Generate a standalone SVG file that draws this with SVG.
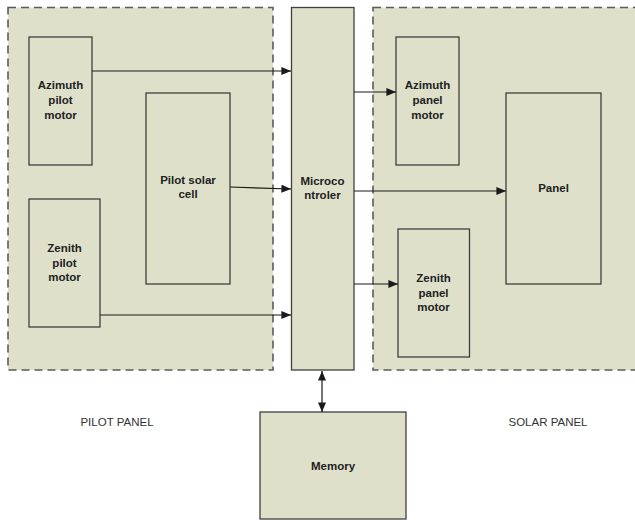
<svg xmlns="http://www.w3.org/2000/svg" width="635" height="520" viewBox="0 0 635 520">
<style>
.panel{fill:#dee0ca;stroke:#5a5a5a;stroke-width:1.6;stroke-dasharray:8,5}
.box{fill:#dee0ca;stroke:#404040;stroke-width:1.3}
.lbl{font-family:"Liberation Sans",Arial,sans-serif;font-size:11.5px;font-weight:bold;fill:#222;text-anchor:middle}
.cap{font-family:"Liberation Sans",Arial,sans-serif;font-size:11.5px;fill:#333;text-anchor:middle}
.con{fill:none;stroke:#1a1a1a;stroke-width:1.2}
</style>
<defs>
<marker id="ah" viewBox="0 0 12 10" refX="12" refY="5" markerWidth="12" markerHeight="8" markerUnits="userSpaceOnUse" orient="auto-start-reverse">
<path d="M0,0 L12,5 L0,10 Z" fill="#1a1a1a"/>
</marker>
</defs>
<rect width="635" height="520" fill="#fff"/>
<g id="pilot-panel">
<rect class="panel" x="8" y="7.5" width="265" height="362.5"/>
<text class="cap" x="117" y="426">PILOT PANEL</text>
</g>
<g id="solar-panel">
<rect class="panel" x="373" y="7.5" width="270" height="362.5"/>
<text class="cap" x="548" y="426">SOLAR PANEL</text>
</g>
<g id="azimuth-pilot-motor">
<rect class="box" x="29" y="37" width="63" height="128"/>
<text class="lbl" x="60.5" y="89">Azimuth</text>
<text class="lbl" x="60.5" y="104">pilot</text>
<text class="lbl" x="60.5" y="119">motor</text>
</g>
<g id="pilot-solar-cell">
<rect class="box" x="146" y="93" width="84" height="191"/>
<text class="lbl" x="188" y="184">Pilot solar</text>
<text class="lbl" x="188" y="198">cell</text>
</g>
<g id="zenith-pilot-motor">
<rect class="box" x="29" y="199" width="71" height="128"/>
<text class="lbl" x="64.5" y="252">Zenith</text>
<text class="lbl" x="64.5" y="267">pilot</text>
<text class="lbl" x="64.5" y="281">motor</text>
</g>
<g id="microcontroler">
<rect class="box" x="291.5" y="7.5" width="62.5" height="362.5"/>
<text class="lbl" x="322.5" y="185">Microco</text>
<text class="lbl" x="322.5" y="199">ntroler</text>
</g>
<g id="azimuth-panel-motor">
<rect class="box" x="396" y="37" width="63" height="128"/>
<text class="lbl" x="427.5" y="89">Azimuth</text>
<text class="lbl" x="427.5" y="104">panel</text>
<text class="lbl" x="427.5" y="119">motor</text>
</g>
<g id="panel">
<rect class="box" x="506" y="93" width="95" height="191"/>
<text class="lbl" x="553.5" y="192">Panel</text>
</g>
<g id="zenith-panel-motor">
<rect class="box" x="398" y="229" width="71.5" height="128"/>
<text class="lbl" x="433.5" y="282">Zenith</text>
<text class="lbl" x="433.5" y="297">panel</text>
<text class="lbl" x="433.5" y="311">motor</text>
</g>
<g id="memory">
<rect class="box" x="260" y="412" width="146" height="107"/>
<text class="lbl" x="333" y="470">Memory</text>
</g>
<g id="connectors">
<path class="con" d="M92,71 H291" marker-end="url(#ah)"/>
<path class="con" d="M230,187 L291,189" marker-end="url(#ah)"/>
<path class="con" d="M100,315 H291" marker-end="url(#ah)"/>
<path class="con" d="M354,92 H396" marker-end="url(#ah)"/>
<path class="con" d="M354,191 H506" marker-end="url(#ah)"/>
<path class="con" d="M354,284 H398" marker-end="url(#ah)"/>
<path class="con" d="M322,371 V412" marker-start="url(#ah)" marker-end="url(#ah)"/>
</g>
</svg>
